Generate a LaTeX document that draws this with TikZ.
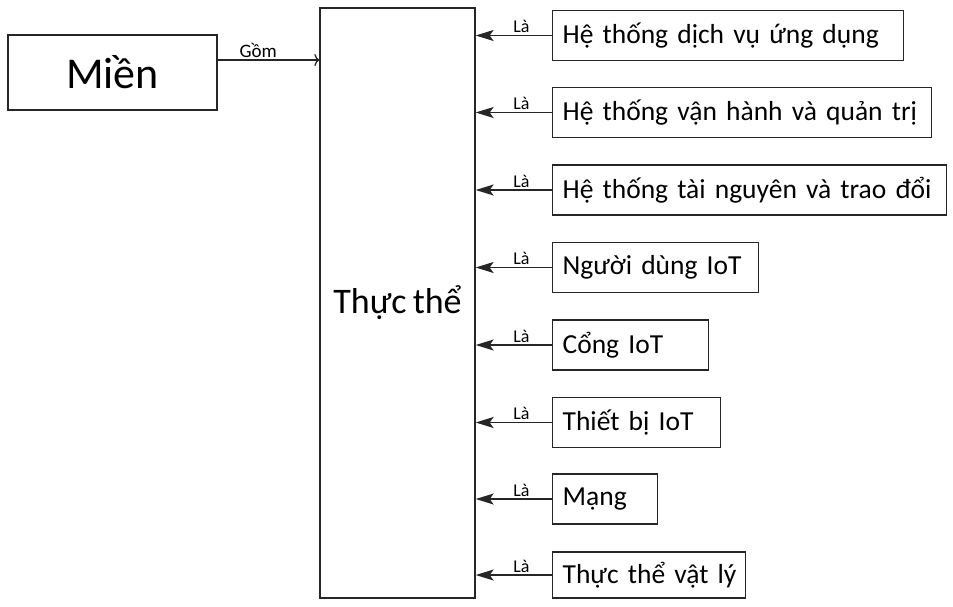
\documentclass[tikz,border=0pt]{standalone}
\usepackage{fontspec}
\setmainfont{Carlito}[WordSpace=0.75]
\usetikzlibrary{arrows.meta,calc}
\begin{document}
\begin{tikzpicture}[x=1pt,y=-1pt,
  box/.style={draw=black!85,line width=1.3pt,inner sep=0pt},
  ent/.style={box,anchor=west,inner xsep=10pt,align=left,font=\fontsize{27.5}{30}\selectfont,minimum height=50pt},
  isarrow/.style={line width=1.4pt,draw=black!85,-{Stealth[length=18pt,width=11pt,inset=4pt]}},
  lbl/.style={font=\fontsize{18}{20}\selectfont,above,inner sep=2pt}]
\useasboundingbox (0,0) rectangle (953,606);
\node[box,minimum width=209pt,minimum height=75pt,font=\fontsize{44}{48}\selectfont] (mien) at (112.5,72.5) {Miền};
\node[box,minimum width=155pt,minimum height=590pt,font=\fontsize{36}{40}\selectfont] (th) at (397.5,303) {Thực thể};
\coordinate (g) at (0,60);
\draw[line width=1.3pt,draw=black!85,-{To[length=5pt,width=12pt]}] (mien.east |- g) -- node[lbl,pos=0.4,font=\fontsize{19}{21}\selectfont]{Gồm} (th.west |- g);
\node[ent,text width=331pt] (r1) at (552,35.5) {\mbox{Hệ thống dịch vụ ứng dụng}};
\node[ent,text width=359pt] (r2) at (552,112.5) {\mbox{Hệ thống vận hành và quản trị}};
\node[ent,text width=374pt] (r3) at (552,190) {\mbox{Hệ thống tài nguyên và trao đổi}};
\node[ent,text width=186pt] (r4) at (552,267.5) {\mbox{Người dùng IoT}};
\node[ent,text width=136pt] (r5) at (552,345) {\mbox{Cổng IoT}};
\node[ent,text width=148pt] (r6) at (552,422.5) {\mbox{Thiết bị IoT}};
\node[ent,text width=85pt] (r7) at (552,499) {\mbox{Mạng}};
\node[ent,text width=173pt,minimum height=46pt] (r8) at (552,575) {\mbox{Thực thể vật lý}};
\foreach \r in {r1,r2,r3,r4,r5,r6,r7,r8}{
  \draw[isarrow] (\r.west) -- node[lbl,pos=0.4]{Là} (\r.west -| th.east);
}
\end{tikzpicture}
\end{document}
